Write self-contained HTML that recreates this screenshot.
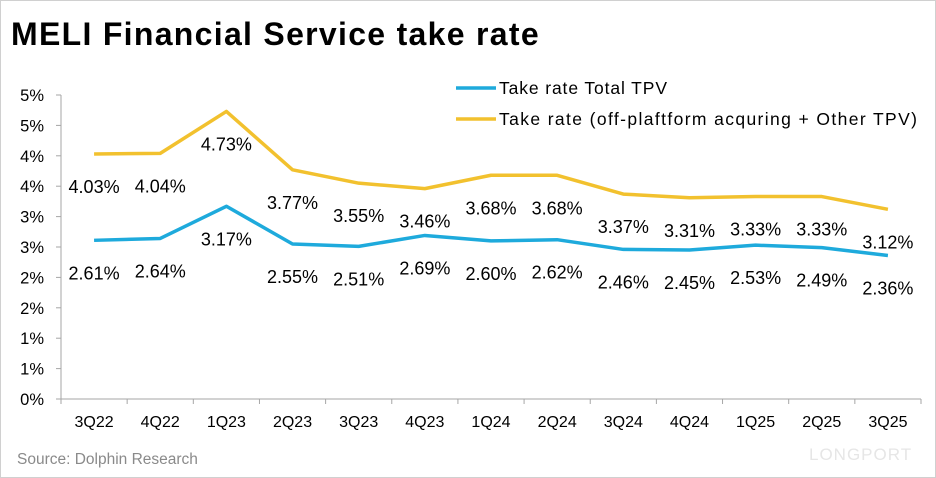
<!DOCTYPE html>
<html><head><meta charset="utf-8"><style>
body{margin:0;background:#fff}
#wrap{position:relative;width:936px;height:478px;font-family:"Liberation Sans","DejaVu Sans",sans-serif;overflow:hidden;box-sizing:border-box;border:1px solid #d0d0d0}
#title{position:absolute;left:10px;top:15px;font-size:32px;font-weight:bold;color:#000;letter-spacing:1.3px}
#src{position:absolute;left:16px;top:450px;font-size:15.5px;color:#8a8a8a}
#logo{position:absolute;left:808px;top:444px;font-size:17px;color:#e6e6e6;letter-spacing:1px}
</style></head><body>
<div id="wrap">
<div id="title">MELI Financial Service take rate</div>
<svg id="chart" width="936" height="478" style="position:absolute;left:0;top:0"></svg>
<div id="src">Source: Dolphin Research</div>
<div id="logo">LONGPORT</div>
</div>
<script>
const categories=["3Q22","4Q22","1Q23","2Q23","3Q23","4Q23","1Q24","2Q24","3Q24","4Q24","1Q25","2Q25","3Q25"];
const totalTPV=[2.61,2.64,3.17,2.55,2.51,2.69,2.60,2.62,2.46,2.45,2.53,2.49,2.36];
const offPlatform=[4.03,4.04,4.73,3.77,3.55,3.46,3.68,3.68,3.37,3.31,3.33,3.33,3.12];
const yTicks=[0,0.5,1,1.5,2,2.5,3,3.5,4,4.5,5];
const seriesNames=["Take rate Total TPV","Take rate (off-plaftform acquring + Other TPV)"];
const NS="http://www.w3.org/2000/svg";
const svg=document.getElementById('chart');
const L=60,R=920,Y0=398,Y1=94,YMAX=5;
const bw=(R-L)/categories.length;
const x=i=>L+bw*(i+0.5);
const y=v=>Y0-(v/YMAX)*(Y0-Y1);
function mk(t,a){const e=document.createElementNS(NS,t);for(const k in a)e.setAttribute(k,a[k]);svg.appendChild(e);return e;}
let e;
e=mk('line',{x1:L,y1:Y1,x2:L,y2:Y0,stroke:'#a6a6a6','stroke-width':1});


e=mk('line',{x1:L,y1:Y0,x2:R,y2:Y0,stroke:'#a6a6a6','stroke-width':1});


yTicks.forEach(v=>{
 mk('line',{x1:L-5,y1:y(v),x2:L,y2:y(v),stroke:'#a6a6a6'});
 e=mk('text',{x:L-17,y:y(v)+6,'text-anchor':'end','font-size':16.5,fill:'#000'});
 e.textContent=Math.round(v)+'%';
 
 
});
for(let i=0;i<=categories.length;i++)mk('line',{x1:L+bw*i,y1:Y0,x2:L+bw*i,y2:Y0+5,stroke:'#a6a6a6'});
categories.forEach((c,i)=>{
 e=mk('text',{x:x(i),y:Y0+28,'text-anchor':'middle','font-size':16,fill:'#000'});
 e.textContent=c;
 
 
});
function series(vals,color,name){
 e=mk('polyline',{points:vals.map((v,i)=>x(i)+','+y(v)).join(' '),fill:'none',stroke:color,'stroke-width':3.5,'stroke-linejoin':'round'});
 
 
 vals.forEach((v,i)=>{
  e=mk('text',{x:x(i),y:y(v)+39,'text-anchor':'middle','font-size':18,fill:'#000'});
  e.textContent=v.toFixed(2)+'%';
  
  
 });
}
series(totalTPV,'#1eaadc','total-tpv');
series(offPlatform,'#f2c12e','off-platform');
[['#1eaadc',87,168],['#f2c12e',118,418]].forEach((d,k)=>{
 e=mk('line',{x1:455,y1:d[1],x2:495,y2:d[1],stroke:d[0],'stroke-width':3.5});
 
 
 e=mk('text',{x:498,y:d[1]+6,'font-size':17.5,fill:'#000',textLength:d[2],lengthAdjust:'spacing'});
 e.textContent=seriesNames[k];
 
 
});
</script>
</body></html>
